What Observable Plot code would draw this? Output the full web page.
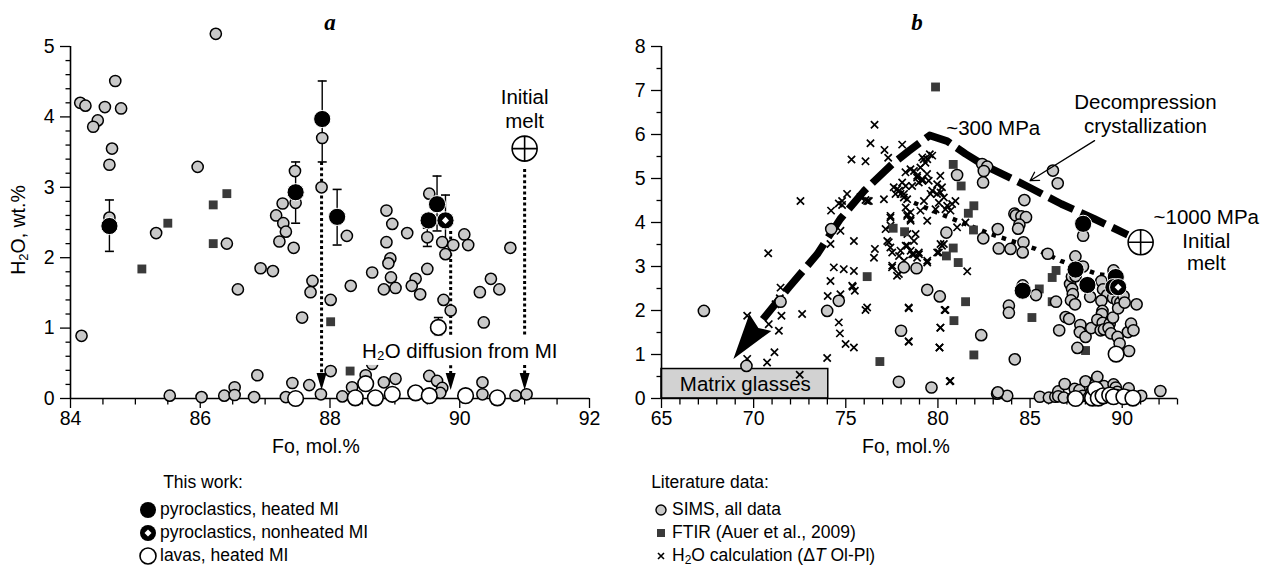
<!DOCTYPE html>
<html><head><meta charset="utf-8">
<script src="https://cdn.jsdelivr.net/npm/d3@7"></script>
<script src="https://cdn.jsdelivr.net/npm/@observablehq/plot@0.6"></script>
<style>
body{margin:0;background:#fff;font-family:"Liberation Sans",Arial,sans-serif;color:#000;}
#wrap{position:relative;width:1268px;height:571px;overflow:hidden;background:#fff;}
.abs{position:absolute;white-space:nowrap;line-height:1;}
.pl{position:absolute;top:0;}
</style></head><body><div id="wrap"></div>
<script>
// ---------------- DATA (Fo mol.%, H2O wt.%) ----------------
// SIMS literature data inside Fo 84–92 (shown in both panels)
const simsA = [
 [84.15,4.20],[84.23,4.16],[84.69,4.51],[84.53,4.14],[84.78,4.12],[84.42,3.95],[84.35,3.86],[84.64,3.55],
 [84.60,3.32],[84.60,2.57],[84.17,0.89],[85.32,2.35],[85.96,3.29],[86.24,5.18],[86.41,2.20],[86.58,1.55],
 [86.93,1.85],[87.12,1.81],[87.17,2.60],[87.27,2.77],[87.28,2.49],[87.32,2.37],[87.22,2.23],[87.44,2.14],
 [87.46,3.23],[87.47,2.78],[87.73,1.67],[87.70,1.51],[87.57,1.15],[85.53,0.04],[86.02,0.02],[86.37,0.04],
 [86.53,0.16],[86.53,0.05],[86.83,0.02],[86.88,0.33],[87.32,0.02],[87.42,0.22],[87.68,0.19],[87.86,0.06],
 [88.01,0.39],[87.88,3.70],[87.87,3.00],[88.26,2.31],[88.01,1.40],[88.32,1.60],[88.87,2.67],[88.96,2.48],
 [89.19,2.35],[88.87,2.22],[88.93,1.99],[88.90,1.92],[88.65,1.79],[88.94,1.72],[88.83,1.55],[89.01,1.57],
 [89.32,1.70],[89.26,1.60],[89.39,1.48],[89.50,1.84],[89.53,2.91],[89.50,2.29],[89.73,2.22],[89.90,2.18],
 [89.78,2.05],[89.75,1.40],[89.86,1.25],[90.07,2.33],[90.13,2.18],[90.31,1.51],[90.37,1.08],[90.48,1.70],
 [90.61,1.55],[90.78,2.14],[88.19,0.03],[88.34,0.16],[88.55,0.33],[88.65,0.49],[88.83,0.23],[89.01,0.28],
 [89.53,0.32],[89.65,0.25],[89.73,0.15],[89.70,0.08],[90.35,0.23],[90.35,0.06],[90.86,0.04],[91.03,0.06]
];
// SIMS literature data only visible in panel b
const simsBOnly = [
 [67.30,1.99],[69.61,0.74],[71.46,2.20],[73.99,1.99],[74.62,2.22],[74.21,3.85],[77.88,0.38],[78.00,1.54],
 [78.15,2.98],[78.84,2.96],[79.42,2.47],[79.65,0.25],[80.10,2.32],[80.46,3.77],[81.04,5.08],[82.40,5.33],
 [82.67,5.27],[82.49,5.17],[82.45,4.91],[83.25,3.85],[82.46,3.64],[83.30,3.41],[83.94,3.40],[83.85,2.11],
 [83.85,1.95],[82.35,1.44],[83.21,0.11],[83.76,0.06],[83.25,0.14],[86.50,4.89],[92.07,0.17]
];
// FTIR (Auer et al., 2009)
const ftirA = [[85.10,1.84],[85.50,2.49],[86.20,2.75],[86.20,2.20],[86.41,2.91],[88.01,1.09],[88.31,0.39]];
const ftirBOnly = [
 [79.87,7.08],[76.16,2.77],[76.85,0.84],[77.57,3.87],[78.19,3.79],[80.83,5.32],[81.26,4.83],[81.95,4.38],
 [81.65,4.21],[81.93,3.83],[80.83,3.42],[80.46,3.24],[81.10,3.09],[81.50,2.20],[80.87,1.77],[81.95,0.99]
];
// H2O calculation (ΔT Ol-Pl)
const calcB = [
 [76.56,6.22],[76.34,5.80],[75.31,5.43],[76.07,5.39],[77.10,5.65],[78.06,5.77],[77.30,5.47],[72.54,4.49],
 [75.07,4.65],[74.62,4.43],[74.80,4.40],[74.20,4.27],[75.80,4.58],[76.07,4.51],[76.25,4.49],[75.44,3.58],
 [74.17,3.51],[70.79,3.30],[74.71,3.81],[76.58,3.40],[76.53,3.20],[77.42,3.43],[74.35,2.98],[74.89,2.94],
 [75.44,2.90],[74.17,2.67],[75.38,2.54],[75.49,2.45],[74.02,2.33],[74.71,2.37],[72.63,1.92],[71.46,2.52],
 [71.42,2.28],[71.19,2.14],[71.51,1.88],[71.37,1.54],[70.82,1.69],[69.65,1.88],[70.73,0.82],[71.13,1.05],
 [69.65,0.90],[73.99,0.92],[72.50,0.54],[74.62,1.73],[74.68,1.48],[74.99,1.24],[75.44,1.16],[76.16,2.07],
 [76.07,2.01],[78.41,2.07],[78.41,1.30],[80.09,1.16],[80.13,1.61],[80.36,2.01],[80.68,0.40],[77.51,2.98],
 [77.78,2.79],[77.25,3.58],[77.42,4.11],[77.07,4.53],[77.89,4.72],[78.16,4.65],[78.25,4.83],[78.70,5.17],
 [79.15,5.48],[79.42,5.44],[79.69,5.52],[78.87,5.02],[79.15,4.95],[80.13,5.06],[80.22,4.80],[79.95,4.65],
 [79.60,4.65],[79.24,4.49],[80.05,4.45],[78.25,4.34],[78.34,4.19],[78.52,4.04],[78.34,3.74],[78.79,3.74],
 [78.70,3.58],[78.25,3.47],[78.52,3.36],[78.70,3.28],[78.97,3.28],[77.97,3.36],[78.16,3.13],[77.89,3.24],
 [79.42,3.13],[80.05,3.32],[80.22,3.47],[79.42,4.04],[79.87,4.30],[80.41,4.30],[81.04,3.89],[79.05,4.27],
 [77.60,4.80],[78.24,5.14],[78.51,5.21],[79.05,5.25],[79.56,5.55],[79.23,5.44],[79.32,5.36],[78.87,5.06],
 [78.06,4.91],[77.79,4.76],[77.70,4.65],[77.97,4.65],[78.15,4.57],[78.33,4.53],[78.60,4.83],[79.15,4.99],
 [79.50,4.95],[79.69,4.72],[79.96,4.87],[80.14,4.68],[80.32,4.57],[80.50,4.38],[80.68,4.27],[80.95,4.49],
 [79.41,5.10],[78.96,4.91],[78.51,4.23],[78.33,4.15],[77.43,4.15],[78.51,4.08],[80.77,4.42],[77.43,3.93],
 [77.33,3.55],[77.52,3.32],[78.33,3.47],[78.60,3.28],[78.96,3.32],[78.87,3.20],[79.42,3.09],[80.14,3.51],
 [77.52,3.02],[77.88,2.83],[77.16,3.85],[75.35,2.56],[81.59,2.89],[81.49,4.00],[79.96,3.32],[80.32,3.51],
 [76.16,4.49],[74.80,4.49],[78.42,2.05],[80.41,2.01],[80.14,1.61],[78.42,1.29],[80.08,1.16],[80.64,0.39]
];
// This work
const heatedPyro = [[84.60,2.45],[87.47,2.93],[87.88,3.97],[88.11,2.58],[89.65,2.76],[89.52,2.53]];
const nonheatedPyro = [[89.78,2.53]];
const lavas = [[87.47,0.00],[88.39,0.01],[88.55,0.21],[88.70,0.01],[88.96,0.06],[89.32,0.08],[89.53,0.04],[90.09,0.04],[90.58,0.01],[89.67,1.01]];
const initialMelt = [[91.0,3.55]];
// error bars panel a: [Fo, low, high]
const errBars = [[84.60,2.09,2.82],[87.47,2.49,3.36],[87.88,3.36,4.51],[88.11,2.18,2.97],[89.65,2.38,3.16],[89.78,2.17,2.89],[89.50,2.16,2.42],[89.67,0.88,1.15]];
// H2O diffusion dotted arrows panel a: [Fo, top of line]
const diffusionLines = [[87.87,3.36],[89.86,2.38],[91.0,3.26]];
const diffArrowBase = 0.36, diffArrowTip = 0.12;
const diffLabelBox = [{x1:88.39, x2:91.62, y1:0.47, y2:0.88}];
const textA = [
 {x:91.0, y:4.27, t:"Initial"}, {x:91.0, y:3.93, t:"melt"},
 {x:90.0, y:0.67, t:"H₂O diffusion from MI"}
];
// panel b decompression paths
const decompUpper = [[70.5,1.80],[71.9,2.52],[73.45,3.28],[74.7,4.08],[76.0,4.72],[77.5,5.32],[78.4,5.62],[79.55,5.98],
 [80.5,5.85],[81.5,5.56],[82.5,5.30],[83.7,5.06],[85.0,4.79],[86.7,4.42],[88.5,4.08],[90.3,3.72]];
const decompArrowTip = [[68.9,0.90]];
const decompLower = [[78.7,4.45],[80.1,4.20],[82.85,3.74],[85.3,3.40],[86.65,3.13],[88.64,2.83],[89.5,2.78]];
const matrixGlass = [{x1:65, x2:74.05, y1:0, y2:0.67}];
const textB = [
 {x:69.55, y:0.33, t:"Matrix glasses"},
 {x:83.0, y:6.13, t:"~300 MPa"},
 {x:91.26, y:6.72, t:"Decompression"}, {x:91.26, y:6.18, t:"crystallization"},
 {x:94.56, y:4.11, t:"~1000 MPa"}, {x:94.56, y:3.58, t:"Initial"}, {x:94.56, y:3.06, t:"melt"}
];
const decompArrow = [{x1:88.5, y1:5.86, x2:85.0, y2:4.95}];
// axis ticks
const xMajorA = [84,86,88,90,92];
const xMinorA = [84.5,85,85.5,86.5,87,87.5,88.5,89,89.5,90.5,91,91.5];
const yMajorA = [0,1,2,3,4,5];
const yMinorA = [0.2,0.4,0.6,0.8,1.2,1.4,1.6,1.8,2.2,2.4,2.6,2.8,3.2,3.4,3.6,3.8,4.2,4.4,4.6,4.8];
const xMajorB = [65,70,75,80,85,90];
const xMinorB = [66,67,68,69,71,72,73,74,76,77,78,79,81,82,83,84,86,87,88,89,91,92,93];
const yMajorB = [0,1,2,3,4,5,6,7,8];
const yMinorB = [0.5,1.5,2.5,3.5,4.5,5.5,6.5,7.5];

// ---------------- drawing ----------------
const FONT = '"Liberation Sans", Arial, sans-serif';
const X = d => d[0], Y = d => d[1];
const INT = d => String(d);
const GRAY = "#c9c9c9", SQ = "#3a3a3a";
const downTri = {draw(c){ c.moveTo(-5,-17); c.lineTo(5,-17); c.lineTo(0,0); c.closePath(); }};
const cap = {draw(c){ c.moveTo(-4.5,0); c.lineTo(4.5,0); }};
const vTick = {draw(c){ c.moveTo(0,0); c.lineTo(0,6); }};
const hTick = {draw(c){ c.moveTo(0,0); c.lineTo(-5,0); }};
const crossCircle = {draw(c,size){ const r=Math.sqrt(size/Math.PI); c.moveTo(r,0); c.arc(0,0,r,0,2*Math.PI); c.moveTo(-r,0); c.lineTo(r,0); c.moveTo(0,-r); c.lineTo(0,r); }};
const bigHead = {draw(c){ c.moveTo(0,0); c.lineTo(38,-28); c.lineTo(25,-31); c.lineTo(16,-45); c.closePath(); }};
const baseStyle = {fontFamily: FONT, fontSize:"19px", background:"transparent", overflow:"visible", maxWidth:"none", color:"black"};

function commonPoints(sims, ftir){
  return [
    Plot.dot(ftir, {x:X, y:Y, symbol:"square", r:5, fill:SQ, stroke:"none"}),
    Plot.dot(sims, {x:X, y:Y, r:5.6, fill:GRAY, stroke:"black", strokeWidth:1.5}),
    Plot.dot(lavas, {x:X, y:Y, r:7.8, fill:"white", stroke:"black", strokeWidth:1.6}),
    Plot.dot(heatedPyro, {x:X, y:Y, r:8.6, fill:"black", stroke:"white", strokeWidth:1}),
    Plot.dot(nonheatedPyro, {x:X, y:Y, r:8.6, fill:"black", stroke:"white", strokeWidth:1}),
    Plot.dot(nonheatedPyro, {x:X, y:Y, symbol:"diamond2", r:3.2, fill:"white", stroke:"none"}),
    Plot.dot(initialMelt, {x:X, y:Y, symbol:crossCircle, r:12.5, fill:"white", stroke:"black", strokeWidth:1.6})
  ];
}
function axes(xMajor, xMinor, yMajor, yMinor, x0, x1, y0, y1){
  return [
    Plot.axisX(xMajor, {tickSize:10, tickPadding:3, fontSize:19.5, label:null, strokeWidth:1.3, tickFormat:INT}),
    Plot.axisY(yMajor, {tickSize:10, tickPadding:6, fontSize:19.5, label:null, strokeWidth:1.3, tickFormat:INT}),
    Plot.dot(xMinor, {x:d=>d, y:()=>y0, symbol:vTick, stroke:"black", strokeWidth:1.3}),
    Plot.dot(yMinor, {x:()=>x0, y:d=>d, symbol:hTick, stroke:"black", strokeWidth:1.3}),
    Plot.ruleX([x0], {y1:()=>y0, y2:()=>y1, strokeWidth:1.6}),
    Plot.ruleY([y0], {x1:()=>x0, x2:()=>x1, strokeWidth:1.6})
  ];
}

const plotA = Plot.plot({
  width:600, height:460, marginLeft:70, marginRight:11, marginTop:46, marginBottom:62,
  x:{domain:[84,92]}, y:{domain:[0,5]}, style: baseStyle,
  marks:[
    ...axes(xMajorA, xMinorA, yMajorA, yMinorA, 84, 92, 0, 5),
    Plot.link(diffusionLines, {x1:X, x2:X, y1:Y, y2:()=>diffArrowBase, stroke:"black", strokeWidth:3, strokeDasharray:"3,2.6"}),
    Plot.ruleX(errBars, {x:d=>d[0], y1:d=>d[1], y2:d=>d[2], strokeWidth:1.4}),
    Plot.dot(errBars, {x:d=>d[0], y:d=>d[1], symbol:cap, stroke:"black", strokeWidth:1.6}),
    Plot.dot(errBars, {x:d=>d[0], y:d=>d[2], symbol:cap, stroke:"black", strokeWidth:1.6}),
    ...commonPoints(simsA, ftirA),
    Plot.rect(diffLabelBox, {x1:"x1", x2:"x2", y1:"y1", y2:"y2", fill:"white"}),
    Plot.text(textA, {x:"x", y:"y", text:"t", fontSize:20.5, fill:"black"}),
    Plot.dot(diffusionLines, {x:X, y:()=>diffArrowTip, symbol:downTri, fill:"black", stroke:"none"})
  ]
});

const plotB = Plot.plot({
  width:678, height:460, marginLeft:71, marginRight:91, marginTop:46, marginBottom:62,
  x:{domain:[65,93]}, y:{domain:[0,8]}, style: baseStyle,
  marks:[
    Plot.rect(matrixGlass, {x1:"x1", x2:"x2", y1:"y1", y2:"y2", fill:"#d2d2d2", stroke:"black", strokeWidth:1.5}),
    ...axes(xMajorB, xMinorB, yMajorB, yMinorB, 65, 93, 0, 8),
    Plot.text([textB[0]], {x:"x", y:"y", text:"t", fontSize:20.5, fill:"black"}),
    Plot.dot(calcB, {x:X, y:Y, symbol:"times", r:3.4, stroke:"black", strokeWidth:1.7}),
    Plot.line(decompLower, {x:X, y:Y, stroke:"black", strokeWidth:4.5, strokeDasharray:"4.5,6", strokeLinecap:"butt"}),
    Plot.line(decompUpper, {x:X, y:Y, stroke:"black", strokeWidth:7.5, strokeDasharray:"27,8", strokeLinecap:"butt", strokeLinejoin:"round"}),
    Plot.dot(decompArrowTip, {x:X, y:Y, symbol:bigHead, fill:"black", stroke:"none"}),
    ...commonPoints(simsA.concat(simsBOnly), ftirA.concat(ftirBOnly)),
    Plot.text(textB.slice(1), {x:"x", y:"y", text:"t", fontSize:20.5, fill:"black"}),
    Plot.arrow(decompArrow, {x1:"x1", y1:"y1", x2:"x2", y2:"y2", stroke:"black", strokeWidth:1.3, headLength:11})
  ]
});

const wrap = document.getElementById("wrap");
function place(el, left, width){ const d=document.createElement("div"); d.className="pl"; d.style.left=left+"px"; d.style.width=width+"px"; d.appendChild(el); wrap.appendChild(d); }
place(plotA, 0, 600);
place(plotB, 590, 678);

function addText(html, x, y, size, extra){
  const d=document.createElement("div"); d.className="abs"; d.innerHTML=html;
  d.style.left=x+"px"; d.style.top=y+"px"; d.style.fontSize=size+"px";
  d.style.transform=(extra&&extra.transform)||"translate(-50%,-50%)";
  if(extra&&extra.style) Object.assign(d.style, extra.style);
  wrap.appendChild(d); return d;
}
const titleStyle = {style:{fontFamily:'"Liberation Serif", "DejaVu Serif", serif', fontWeight:"bold", fontStyle:"italic"}};
addText("a", 330, 22, 23, titleStyle);
addText("b", 917, 22, 23, titleStyle);
addText("Fo, mol.%", 316, 447, 19.5);
addText("Fo, mol.%", 906, 447, 19.5);
addText('H<sub style="font-size:13px;vertical-align:-3px">2</sub>O, wt.%', 19, 230, 19.5, {transform:"translate(-50%,-50%) rotate(-90deg)"});

// legend
const legendLeft = [
 {label:"pyroclastics, heated MI", mk:'<circle cx="11" cy="11" r="8" fill="black"/>'},
 {label:"pyroclastics, nonheated MI", mk:'<circle cx="11" cy="11" r="8" fill="black"/><path d="M11,7.5L14.5,11L11,14.5L7.5,11Z" fill="white"/>'},
 {label:"lavas, heated MI", mk:'<circle cx="11" cy="11" r="8" fill="white" stroke="black" stroke-width="1.6"/>'}
];
const legendRight = [
 {label:"SIMS, all data", mk:'<circle cx="11" cy="11" r="5" fill="#c9c9c9" stroke="black" stroke-width="1.4"/>'},
 {label:"FTIR (Auer et al., 2009)", mk:'<rect x="7" y="7" width="8" height="8" fill="#3a3a3a"/>'},
 {label:'H<sub style="font-size:12px;vertical-align:-3px">2</sub>O calculation (Δ<i>T</i> Ol-Pl)', mk:'<path d="M8,8L14,14M14,8L8,14" stroke="black" stroke-width="1.6"/>'}
];
addText("This work:", 203, 483, 17.5);
addText("Literature data:", 710, 483, 17.5);
const rows=[510,533,556];
function legendCol(items, mx, tx){
  items.forEach((it,i)=>{
    addText('<svg width="22" height="22" style="display:block">'+it.mk+'</svg>', mx, rows[i], 10);
    addText(it.label, tx, rows[i], 17.5, {transform:"translate(0,-50%)"});
  });
}
legendCol(legendLeft, 148, 160);
legendCol(legendRight, 661, 672);
</script>
</body></html>
